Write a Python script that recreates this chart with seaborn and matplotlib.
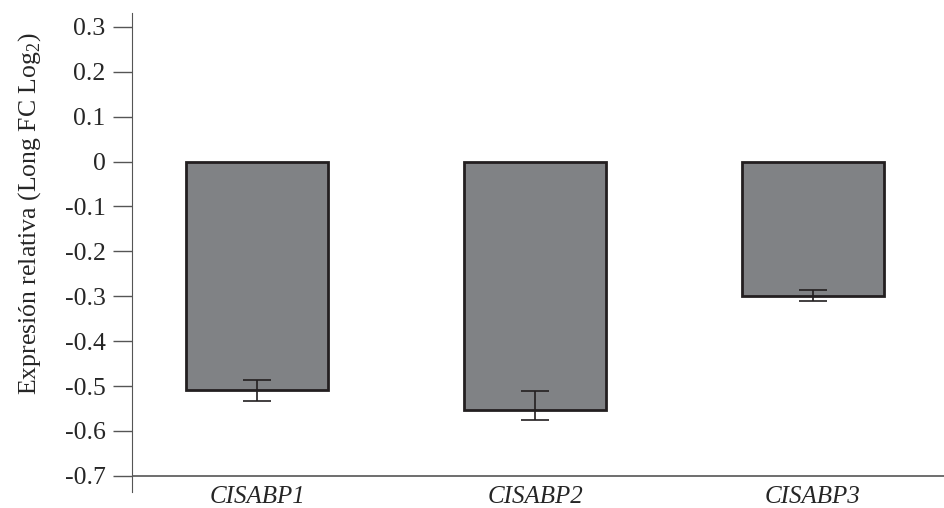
import numpy as np
import seaborn as sns
import matplotlib.pyplot as plt
import pandas as pd

genes = ['CISABP1', 'CISABP2', 'CISABP3']
expression = [-0.508, -0.553, -0.300]
err_low = [0.026, 0.022, 0.010]
err_high = [0.022, 0.041, 0.014]
ytick_values = [0.3, 0.2, 0.1, 0, -0.1, -0.2, -0.3, -0.4, -0.5, -0.6, -0.7]
ytick_labels = ['0.3', '0.2', '0.1', '0', '-0.1', '-0.2', '-0.3', '-0.4', '-0.5', '-0.6', '-0.7']

sns.set_style('ticks')
plt.rcParams['font.family'] = ['Liberation Serif', 'DejaVu Serif']
plt.rcParams['mathtext.fontset'] = 'custom'
plt.rcParams['mathtext.rm'] = 'Liberation Serif'
plt.rcParams['axes.unicode_minus'] = False

df = pd.DataFrame({'gene': genes, 'expr': expression})

fig = plt.figure(figsize=(9.45, 5.08), dpi=100)
ax = fig.add_axes([0.1397, 0.0315, 0.8603, 0.9429])

sns.barplot(data=df, x='gene', y='expr', ax=ax, color='#808285', saturation=1,
            width=0.51, edgecolor='#231f20', linewidth=2, errorbar=None)
ax.errorbar(range(len(genes)), expression, yerr=[err_low, err_high], fmt='none',
            ecolor='#231f20', elinewidth=1.2, capsize=10, capthick=1.2)

ax.set_xlim(-0.45, 2.475)
ax.set_ylim(-0.736, 0.331)
ax.set_yticks(ytick_values)
ax.set_yticklabels(ytick_labels, fontsize=18.5)
ax.tick_params(axis='y', length=14, width=1, color='#555555', pad=5)
ax.tick_params(axis='x', length=0, pad=-4)
for lbl in ax.get_xticklabels():
    lbl.set_fontstyle('italic')
    lbl.set_fontsize(18)
ax.set_xlabel('')
ax.set_ylabel('Expresión relativa (Long FC Log$_2$)', fontsize=18.5)
ax.yaxis.set_label_coords(-0.11, 0.582)

sns.despine(ax=ax, top=True, right=True, bottom=True)
ax.spines['left'].set_color('#555555')
ax.axhline(-0.7, color='#555555', linewidth=1.2)

plt.savefig('out.png', dpi=100)
